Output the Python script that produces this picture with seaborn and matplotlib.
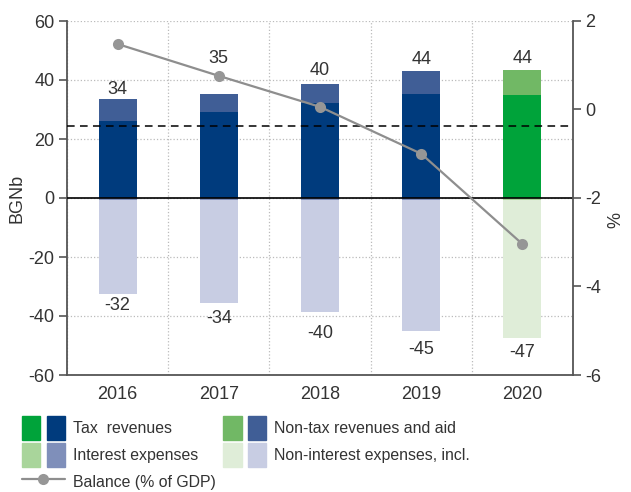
import numpy as np
import pandas as pd
import matplotlib
matplotlib.use("Agg")
import matplotlib.pyplot as plt
from matplotlib.patches import Patch
from matplotlib.lines import Line2D
from matplotlib.legend_handler import HandlerTuple
import seaborn as sns

# ---- data ----
years = ["2016", "2017", "2018", "2019", "2020"]
tax_revenues = [26, 29, 32.2, 35.3, 35]
nontax_revenues = [7.6, 6.3, 6.4, 7.7, 8.4]
interest_expenses = [-0.8, -0.8, -0.7, -0.6, -0.6]
noninterest_expenses = [-31.7, -34.8, -37.9, -44.4, -46.9]
pos_labels = ["34", "35", "40", "44", "44"]
neg_labels = ["-32", "-34", "-40", "-45", "-47"]
balance = [1.48, 0.76, 0.06, -1.0, -3.04]
balance_ref = -0.38

# label placement (pixels from bar end to label centre)
pos_label_gap = [9, 35, 14, 12, 11]
neg_label_gap = [12, 15, 22, 19, 14]

# colors (last year highlighted in green)
c_tax = ["#003B7D"] * 4 + ["#00A33A"]
c_nontax = ["#405E96"] * 4 + ["#71B865"]
c_int = ["#7F8FBA"] * 4 + ["#A9D59B"]
c_nonint = ["#C8CDE3"] * 4 + ["#DFEDD8"]
txt = "#333333"
spine_c = "#555555"

sns.set_style("white")
plt.rcParams["font.family"] = ["Liberation Sans", "DejaVu Sans"]
plt.rcParams["axes.unicode_minus"] = False
FS = 13
LFS = 11.4

fig = plt.figure(figsize=(6.31, 4.92), dpi=100)
ax = fig.add_axes([67 / 631, 1 - 375 / 492, (573 - 67) / 631, (375 - 21) / 492])

df = pd.DataFrame({
    "year": years,
    "tax": tax_revenues,
    "nontax": nontax_revenues,
    "int": interest_expenses,
    "nonint": noninterest_expenses,
})
df["pos_total"] = df["tax"] + df["nontax"]
df["neg_total"] = df["int"] + df["nonint"]
W = 0.375

common = dict(x="year", hue="year", width=W, legend=False, ax=ax, saturation=1, linewidth=0)
# stacked by layering: totals first, inner component on top
sns.barplot(data=df, y="pos_total", palette=c_nontax, **common)
sns.barplot(data=df, y="tax", palette=c_tax, **common)
sns.barplot(data=df, y="neg_total", palette=c_nonint, **common)
sns.barplot(data=df, y="int", palette=c_int, **common)

ax.set_ylim(-60, 60)
ax.set_xlim(-0.5, 4.5)
ax.set_yticks(np.arange(-60, 61, 20))
ax.set_xlabel("")
ax.set_ylabel("BGNb", color=txt, fontsize=FS)
ax.yaxis.set_label_coords(-0.083, 0.5)

# grid & ticks
ax.set_xticks(np.arange(5))
ax.set_xticklabels(years)
ax.set_xticks(np.arange(-0.5, 5, 1), minor=True)
ax.tick_params(axis="x", which="major", length=0, labelcolor=txt, labelsize=FS, pad=8)
ax.tick_params(axis="x", which="minor", length=6, width=1.2, color=spine_c, direction="out")
ax.tick_params(axis="y", length=6, width=1.2, color=spine_c, labelcolor=txt, labelsize=FS, pad=3, left=True)
ax.grid(False)
ax.xaxis.grid(True, which="minor", ls=":", color="#BBBBBB", lw=0.9)
ax.yaxis.grid(True, which="major", ls=":", color="#BBBBBB", lw=0.9)
for s in ["left", "bottom"]:
    ax.spines[s].set_color(spine_c)
    ax.spines[s].set_linewidth(1.3)
ax.spines["top"].set_visible(False)
ax.spines["right"].set_visible(False)
ax.axhline(0, color="black", lw=1.2, zorder=3)

# value labels
for i in range(5):
    ax.annotate(pos_labels[i], (i, df["pos_total"][i]), xytext=(0, pos_label_gap[i]),
                textcoords="offset pixels", ha="center", va="center", color=txt, fontsize=FS)
    ax.annotate(neg_labels[i], (i, df["neg_total"][i]), xytext=(0, -neg_label_gap[i]),
                textcoords="offset pixels", ha="center", va="center", color=txt, fontsize=FS)

# secondary axis
ax2 = ax.twinx()
ax2.set_ylim(-6, 2)
ax2.set_yticks(np.arange(-6, 3, 2))
ax2.axhline(balance_ref, color="black", lw=1.1, ls=(0, (5, 3.5)), zorder=2)
sns.lineplot(x=np.arange(5), y=balance, ax=ax2, color="#8E8E8E", lw=1.6, marker="o",
             markersize=8, markeredgewidth=0, markerfacecolor="#969696", zorder=5)
ax2.set_xlim(-0.5, 4.5)
ax2.grid(False)
ax2.set_ylabel("")
ax2.tick_params(axis="y", length=6, width=1.2, color=spine_c, labelcolor=txt, labelsize=FS, pad=3, right=True)
for s in ["left", "bottom", "top"]:
    ax2.spines[s].set_visible(False)
ax2.spines["right"].set_color(spine_c)
ax2.spines["right"].set_linewidth(1.3)
fig.text(616 / 631, 1 - 220 / 492, "%", rotation=90, ha="center", va="center", color=txt, fontsize=FS)

# legend
handles = [
    (Patch(color=c_tax[4]), Patch(color=c_tax[0])),
    (Patch(color=c_int[4]), Patch(color=c_int[0])),
    Line2D([], [], color="#8E8E8E", lw=1.6, marker="o", markersize=8, markerfacecolor="#969696",
           markeredgewidth=0),
    (Patch(color=c_nontax[4]), Patch(color=c_nontax[0])),
    (Patch(color=c_nonint[4]), Patch(color=c_nonint[0])),
]
labels = ["Tax  revenues", "Interest expenses", "Balance (% of GDP)",
          "Non-tax revenues and aid", "Non-interest expenses, incl."]
fig.legend(handles, labels, ncol=2, loc="upper left", bbox_to_anchor=(22 / 631, 1 - 416 / 492),
           frameon=False, borderpad=0, borderaxespad=0, fontsize=LFS,
           handler_map={tuple: HandlerTuple(ndivide=None, pad=0.4)},
           handlelength=2.7, handleheight=1.95, handletextpad=0.5,
           labelspacing=0.2, columnspacing=0.5, labelcolor=txt)

fig.savefig("out.png", dpi=100)
